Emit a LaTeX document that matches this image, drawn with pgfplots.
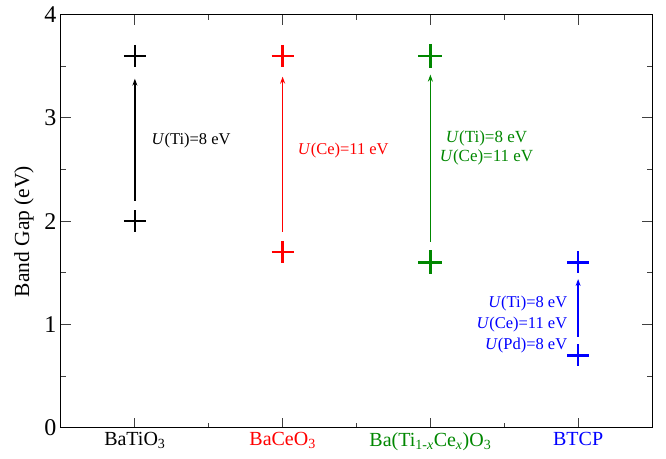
\documentclass[border=0pt]{standalone}
\usepackage{pgfplots}
\pgfplotsset{compat=1.18}
\usetikzlibrary{arrows.meta}
\usepackage{fontspec}
\setmainfont{Liberation Serif}
\definecolor{cgreen}{RGB}{0,135,0}
\begin{document}
\begin{tikzpicture}
\begin{axis}[
  scale only axis,
  width=591pt, height=413pt,
  xmin=0.5, xmax=4.5, ymin=0, ymax=4,
  xtick={1,2,3,4},
  minor xtick={1.5,2.5,3.5},
  ytick={0,1,2,3,4},
  minor ytick={0.5,1.5,2.5,3.5},
  tick align=inside,
  major tick length=10pt,
  minor tick length=5pt,
  every tick/.style={black!75, line width=0.9pt},
  axis line style={line width=1pt},
  xticklabels={BaTiO\textsubscript{3},
    \textcolor{red}{BaCeO\textsubscript{3}},
    \textcolor{cgreen}{Ba(Ti\textsubscript{1-\textit{x}}Ce\textsubscript{\textit{x}})O\textsubscript{3}},
    \textcolor{blue}{BTCP}},
  xticklabel style={font=\fontsize{20}{22}\selectfont, yshift=-1pt},
  yticklabel style={font=\fontsize{24}{24}\selectfont, xshift=-1pt},
  /pgf/number format/assume math mode=true,
  ylabel={Band Gap (eV)},
  ylabel style={font=\fontsize{21.5}{23}\selectfont, at={(ticklabel cs:0.475)}, yshift=4pt},
  clip=false,
]
% band gaps
\addplot[only marks, mark=+, mark size=11pt, line width=2.4pt, black] coordinates {(1,2.0) (1,3.6)};
\addplot[only marks, mark=+, mark size=11pt, line width=2.4pt, red] coordinates {(2,1.7) (2,3.6)};
\addplot[only marks, mark=+, mark size=12pt, line width=2.6pt, cgreen] coordinates {(3,1.6) (3,3.6)};
\addplot[only marks, mark=+, mark size=11pt, line width=2.4pt, blue] coordinates {(4,0.7) (4,1.6)};
% arrows
\addplot[-{Stealth[length=7pt,width=5pt]}, line width=1.5pt, black] coordinates {(1,2.2) (1,3.38)};
\addplot[-{Stealth[length=7pt,width=5pt]}, line width=1.5pt, red] coordinates {(2,1.9) (2,3.4)};
\addplot[-{Stealth[length=7pt,width=5pt]}, line width=1.5pt, cgreen] coordinates {(3,1.8) (3,3.42)};
\addplot[-{Stealth[length=7pt,width=5pt]}, line width=1.6pt, blue] coordinates {(4,0.88) (4,1.44)};
% annotations
\node[anchor=west, font=\fontsize{16.5}{18}\selectfont, black] at (axis cs:1.09,2.78) {\textit{U}(Ti)=8 eV};
\node[anchor=west, font=\fontsize{16.5}{18}\selectfont, red] at (axis cs:2.08,2.68) {\textit{U}(Ce)=11 eV};
\node[align=center, font=\fontsize{17}{18.5}\selectfont, cgreen] at (axis cs:3.38,2.71) {\textit{U}(Ti)=8 eV\\\textit{U}(Ce)=11 eV};
\node[align=right, anchor=east, font=\fontsize{16.5}{21}\selectfont, blue] at (axis cs:3.95,1.0) {\textit{U}(Ti)=8 eV\\\textit{U}(Ce)=11 eV\\\textit{U}(Pd)=8 eV};
\coordinate (ll) at (rel axis cs:0,0);
\coordinate (ur) at (rel axis cs:1,1);
\end{axis}
\pgfresetboundingbox
\useasboundingbox ([xshift=-61pt,yshift=-31.3pt]ll) rectangle ([xshift=14pt,yshift=14.7pt]ur);
\end{tikzpicture}
\end{document}
